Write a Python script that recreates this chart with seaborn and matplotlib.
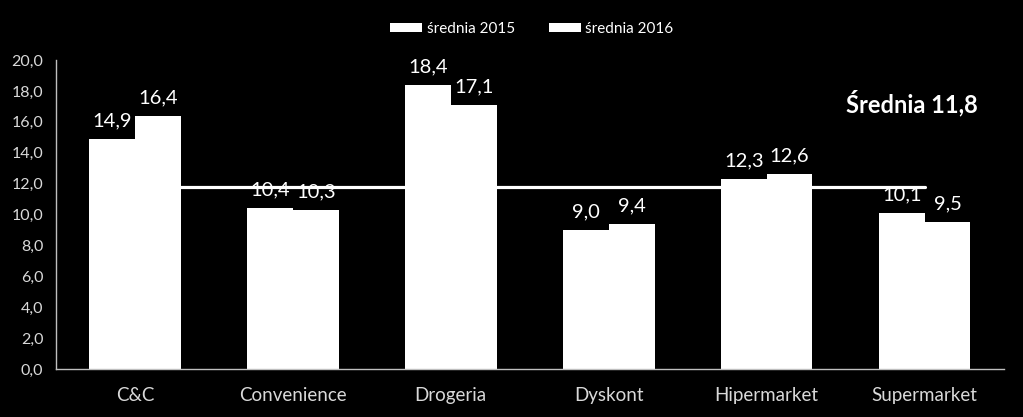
import matplotlib
matplotlib.use("Agg")
import matplotlib.pyplot as plt
import seaborn as sns
import pandas as pd
import numpy as np
from matplotlib.patches import Patch

categories = ["C&C", "Convenience", "Drogeria", "Dyskont", "Hipermarket", "Supermarket"]
values_2015 = [14.9, 10.4, 18.4, 9.0, 12.3, 10.1]
values_2016 = [16.4, 10.3, 17.1, 9.4, 12.6, 9.5]
series_names = ["średnia 2015", "średnia 2016"]
average = 11.8
avg_label = "Średnia 11,8"
yticks = [0, 2, 4, 6, 8, 10, 12, 14, 16, 18, 20]

df = pd.DataFrame({
    "cat": categories * 2,
    "val": values_2015 + values_2016,
    "series": [series_names[0]] * len(categories) + [series_names[1]] * len(categories),
})

sns.set_theme(style="dark")
plt.rcParams["font.family"] = ["Lato", "DejaVu Sans"]

fig = plt.figure(figsize=(10.23, 4.17), dpi=100, facecolor="black")
ax = fig.add_axes([0.0547, 0.115, 0.9263, 0.741])
ax.set_facecolor("black")

sns.barplot(data=df, x="cat", y="val", hue="series", order=categories,
            hue_order=series_names, palette=["white", "white"], width=0.58,
            gap=0, saturation=1, ax=ax, legend=False, linewidth=0)

for cont in ax.containers:
    labels = [f"{b.get_height():.1f}".replace(".", ",") for b in cont]
    ax.bar_label(cont, labels=labels, padding=7, color="white", fontsize=14.5)

ax.plot([0, len(categories) - 1], [average, average], color="white", lw=2.3, zorder=6)

ax.set_ylim(0, 20)
ax.set_xlim(-0.5, len(categories) - 0.5)
ax.set_yticks(yticks)
ax.set_yticklabels([f"{v:.1f}".replace(".", ",") for v in yticks], color="#d9d9d9", fontsize=11.5)
ax.set_xticks(range(len(categories)))
ax.set_xticklabels(categories, color="#d9d9d9", fontsize=13.5)
ax.set_xticks(np.arange(-0.5, len(categories)), minor=True)
ax.tick_params(axis="x", which="major", length=0, pad=13)
ax.tick_params(axis="x", which="minor", length=5, color="#bfbfbf", width=1)
ax.tick_params(axis="y", length=5, color="#bfbfbf", width=1, pad=4)
ax.set_xlabel("")
ax.set_ylabel("")
ax.grid(False)
for s in ["top", "right"]:
    ax.spines[s].set_visible(False)
for s in ["left", "bottom"]:
    ax.spines[s].set_visible(True)
    ax.spines[s].set_color("#bfbfbf")
    ax.spines[s].set_linewidth(1)

ax.text(0.973, 0.86, avg_label, transform=ax.transAxes, color="white",
        fontsize=17, fontweight="bold", ha="right", va="center")

handles = [Patch(facecolor="white", edgecolor="none", label=n) for n in series_names]
leg = fig.legend(handles=handles, loc="center", bbox_to_anchor=(0.52, 0.93), ncol=2,
                 frameon=False, fontsize=11, handlelength=2.1, handleheight=0.5,
                 columnspacing=2.2, handletextpad=0.3)
for t in leg.get_texts():
    t.set_color("white")

fig.savefig("out.png", dpi=100, facecolor="black")
